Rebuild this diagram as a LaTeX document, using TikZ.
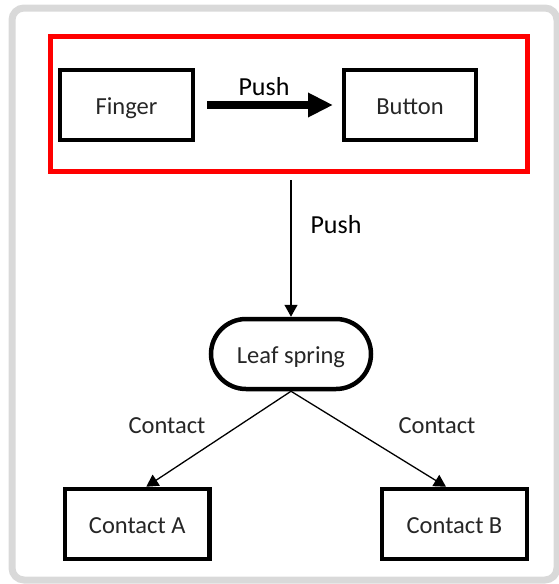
\documentclass[tikz,border=0pt]{standalone}
\usepackage{fontspec}
\setmainfont{Carlito}
\usetikzlibrary{arrows.meta,shapes.misc}

\definecolor{framegray}{HTML}{D9D9D9}
\definecolor{grpred}{HTML}{FF0000}
\definecolor{txt}{HTML}{262626}

\tikzset{
  blockbox/.style={draw=black, line width=4.5pt, rectangle, inner sep=0pt,
    minimum height=70pt, text=txt, font=\fontsize{24.5}{29}\selectfont,
    text height=24pt, text depth=5.4pt},
  springbox/.style={blockbox, rounded rectangle, minimum width=160pt},
  groupbox/.style={draw=grpred, line width=5pt, rectangle, inner sep=0pt},
  pushlabel/.style={anchor=base, text=black, font=\fontsize{26}{31}\selectfont},
  edgelabel/.style={anchor=base, text=txt, font=\fontsize{24.5}{29}\selectfont},
  thinarrow/.style={draw=black, line width=1.3pt, -{Triangle[length=12pt,width=13pt]}},
  thickarrow/.style={draw=black, line width=8pt, -{Triangle[length=25pt,width=23pt]}}
}

\begin{document}
\begin{tikzpicture}[x=1pt,y=-1pt]
  \useasboundingbox (0,0) rectangle (559,584);

  % outer frame
  \draw[framegray, line width=7pt, rounded corners=12pt] (12,8) rectangle (557,580);

  % red group around the finger/button pair
  \node[groupbox, minimum width=476.5pt, minimum height=135pt] (group) at (288.75,103.5) {};

  % blocks
  \node[blockbox, minimum width=133pt] (finger) at (126.5,105) {Finger};
  \node[blockbox, minimum width=132pt] (button) at (410,105) {Button};
  \node[springbox] (leaf) at (291,354) {Leaf spring};
  \node[blockbox, minimum width=144.5pt] (ca) at (137.25,524) {Contact A};
  \node[blockbox, minimum width=145pt] (cb) at (454.5,524) {Contact B};

  % connectors
  \draw[thickarrow, shorten <=11.75pt, shorten >=8.75pt] (finger.east) -- (button.west);
  \draw[thinarrow, shorten <=6.5pt] (leaf.north |- group.south) -- (leaf.north);
  \draw[thinarrow] (leaf.south) -- ([xshift=9pt]ca.north);
  \draw[thinarrow] (leaf.south) -- ([xshift=-8.5pt]cb.north);

  % labels
  \node[pushlabel] (pushA) at (264,95.7) {Push};
  \node[pushlabel] (pushB) at (336,233.3) {Push};
  \node[edgelabel] (contactL) at (167,433.3) {Contact};
  \node[edgelabel] (contactR) at (437,433.3) {Contact};
\end{tikzpicture}
\end{document}
